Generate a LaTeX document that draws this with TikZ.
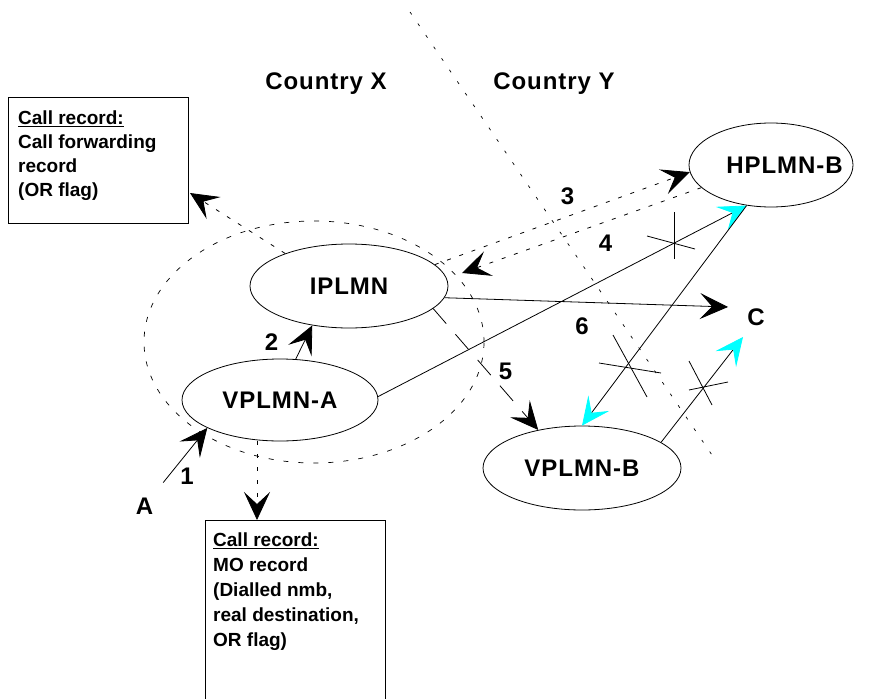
\documentclass[tikz,border=0pt]{standalone}
\usepackage{fontspec}
\setmainfont{Liberation Sans}
\newfontfamily\lblfont{Liberation Sans}[LetterSpace=4]
\usetikzlibrary{shapes.geometric,arrows.meta}
\definecolor{arrcyan}{RGB}{0,255,255}
\tikzset{
  ell/.style={draw, ellipse, inner sep=0pt, line width=0.8pt,
    font=\lblfont\bfseries\fontsize{24}{28}\selectfont},
  lbl/.style={inner sep=0pt, anchor=base,
    font=\lblfont\bfseries\fontsize{24}{28}\selectfont},
  recbox/.style={draw, line width=0.8pt, anchor=north west, inner sep=0pt},
  rectext/.style={inner sep=0pt, anchor=north west, align=left},
  blk/.style={-{Stealth[length=28pt,width=26pt,inset=12pt]}},
  cyn/.style={-{Stealth[length=28pt,width=26pt,inset=12pt,color=arrcyan]}},
  conn/.style={line width=0.8pt},
  dots/.style={line width=0.8pt, dash pattern=on 4pt off 9pt},
  longdash/.style={line width=0.8pt, dash pattern=on 20pt off 14pt},
}
\begin{document}
\begin{tikzpicture}[x=1pt,y=-1pt]
\fill[white] (0,0) rectangle (877,698);
\useasboundingbox (0,0) rectangle (877,698);
\clip (0,0) rectangle (877,698);

% border between countries
\draw[line width=0.7pt, dash pattern=on 3pt off 11pt] (410,12) -- (712,455);
% dotted ellipse round country X network
\draw[line width=0.7pt, dash pattern=on 5pt off 10pt] (314,342) ellipse [x radius=170pt, y radius=121pt];

% networks
\node[ell, minimum width=164pt, minimum height=84pt] (H) at (771,165) {\makebox[0pt]{\hspace*{27pt}HPLMN-B}};
\node[ell, minimum width=198pt, minimum height=84pt] (I) at (349,286) {\makebox[0pt]{IPLMN}};
\node[ell, minimum width=196pt, minimum height=82pt] (VA) at (280,400) {\makebox[0pt]{VPLMN-A}};
\node[ell, minimum width=198pt, minimum height=84pt] (VB) at (582,468) {\makebox[0pt]{VPLMN-B}};

% labels
\node[lbl] (CX) at (326,90) {Country X};
\node[lbl] (CY) at (554,90) {Country Y};
\node[lbl] (A) at (144.5,514) {A};
\node[lbl] (C) at (756,325) {C};
\node[lbl] (n1) at (187,484) {1};
\node[lbl] (n2) at (271.5,350) {2};
\node[lbl] (n3) at (567.5,204) {3};
\node[lbl] (n4) at (605.5,251) {4};
\node[lbl] (n5) at (505.5,379) {5};
\node[lbl] (n6) at (582,334) {6};

% call record boxes
\node[recbox, minimum width=180pt, minimum height=126pt] (B1) at (8,97) {};
\node[rectext, font=\bfseries\fontsize{19}{24}\selectfont] (B1t) at (18,111) {\underline{Call record:}\\Call forwarding\\record\\(OR flag)};
\node[recbox, minimum width=180pt, minimum height=200pt] (B2) at (205,520) {};
\node[rectext, font=\bfseries\fontsize{19}{25}\selectfont] (B2t) at (213,533) {\underline{Call record:}\\MO record\\(Dialled nmb,\\real destination,\\OR flag)};

% free ends
\coordinate (b1in) at (190,193);
\coordinate (t4) at (462,273);
\coordinate (c1) at (728,307);
\coordinate (c2) at (743,337);

% connectors
\draw[conn, blk, shorten <=19pt] (A) -- (VA.201);
\draw[conn, blk] (VA.69) -- (I.227);
\draw[dots, blk] (I.153) -- (b1in);
\draw[dots, blk] ([xshift=-23pt]VA.south) -- ([xshift=-23pt]VA.south |- B2.north);
\draw[dots, blk] (I.14) -- (H.185);
\draw[dots, blk] (H.198) -- (t4);
\draw[longdash, blk] (I.-15) -- (VB.139);
\draw[conn, blk] (I.-7) -- (c1);
\draw[conn, cyn] (VA.2) -- (H.239);
\draw[conn, cyn] (H.239) -- (VB.north);
\draw[conn, cyn] (VB.18) -- (c2);

% crossing marks (blocked routes)
\draw[conn] (674,212) -- (674,259);
\draw[conn] (647,236) -- (695,249);
\draw[conn] (613,335) -- (647,397);
\draw[conn] (599,363) -- (661,373);
\draw[conn] (689,361) -- (712,405);
\draw[conn] (689,390) -- (728,382);
\end{tikzpicture}
\end{document}
